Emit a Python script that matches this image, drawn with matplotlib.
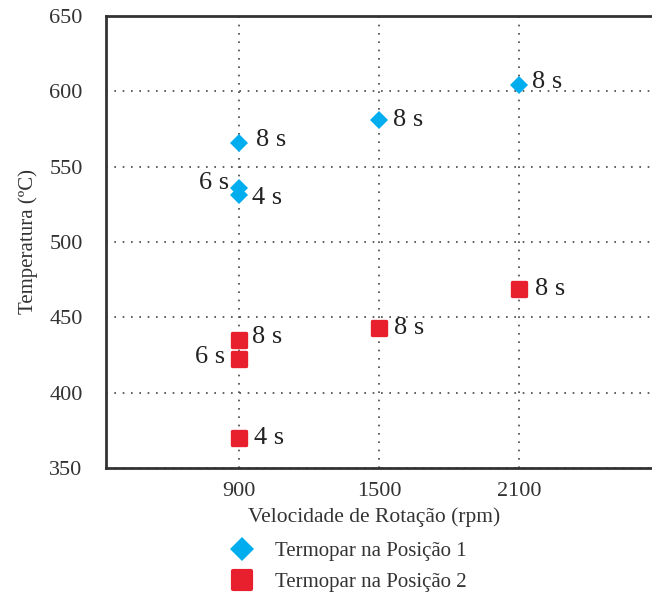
import matplotlib
matplotlib.use("Agg")
import matplotlib.pyplot as plt
from matplotlib.lines import Line2D
from matplotlib.markers import MarkerStyle

plt.rcParams['font.family'] = ['Liberation Serif', 'DejaVu Serif']

# ---------------- data ----------------
rpm_pos1 = [900, 900, 900, 1500, 2100]
temp_pos1 = [566, 536, 531, 581, 604]
time_pos1 = ['8 s', '6 s', '4 s', '8 s', '8 s']

rpm_pos2 = [900, 900, 900, 1500, 2100]
temp_pos2 = [435, 422, 370, 443, 469]
time_pos2 = ['8 s', '6 s', '4 s', '8 s', '8 s']

x_ticks = [900, 1500, 2100]
y_ticks = [350, 400, 450, 500, 550, 600, 650]

legend_labels = ['Termopar na Posição 1', 'Termopar na Posição 2']

# label placement (pixel offsets from the marker)
off_pos1 = [(17, 3), (-10, 5), (13, -3), (14, 0), (13, 3)]
off_pos2 = [(13, 3), (-14, 2), (15, 0), (15, 0), (16, 0)]

blue = '#00AEEF'
red = '#E8202E'
txt = '#333333'

rsquare = MarkerStyle('s', joinstyle='round')

fig = plt.figure(figsize=(6.52, 5.96), dpi=100)
ax = fig.add_axes([0.163, 0.215, 0.84, 0.758])

ax.plot(rpm_pos1, temp_pos1, 'D', color=blue, ms=8.8, mew=0, zorder=3)
ax.plot(rpm_pos2, temp_pos2, marker=rsquare, ls='none', color=red, ms=10,
        mew=2.4, mec=red, zorder=3)

for x, y, t, (dx, dy) in zip(rpm_pos1, temp_pos1, time_pos1, off_pos1):
    ax.annotate(t, (x, y), xytext=(dx, dy), textcoords='offset pixels',
                ha='left' if dx > 0 else 'right', va='center',
                fontsize=19, color='#222222')
for x, y, t, (dx, dy) in zip(rpm_pos2, temp_pos2, time_pos2, off_pos2):
    ax.annotate(t, (x, y), xytext=(dx, dy), textcoords='offset pixels',
                ha='left' if dx > 0 else 'right', va='center',
                fontsize=19, color='#222222')

ax.set_xlim(330, 2680)
ax.set_ylim(350, 650)
ax.set_xticks(x_ticks)
ax.set_yticks(y_ticks)
ax.tick_params(length=0, labelsize=16, colors=txt)
ax.tick_params(axis='y', pad=17)
ax.tick_params(axis='x', pad=10)
ax.grid(True, linestyle=(0, (1, 4)), color='#444444', linewidth=1.2)

for side in ['left', 'top', 'bottom']:
    ax.spines[side].set_linewidth(2)
    ax.spines[side].set_color('#333333')
ax.spines['right'].set_visible(False)

ax.set_xlabel('Velocidade de Rotação (rpm)', fontsize=15.5, color=txt,
              labelpad=5)
ax.xaxis.label.set_x(0.489)
ax.set_ylabel('Temperatura (ºC)', fontsize=15, color=txt, labelpad=8)

handles = [Line2D([], [], marker='D', color=blue, ls='none', ms=12, mew=0),
           Line2D([], [], marker=rsquare, color=red, ls='none', ms=13.5,
                  mew=3, mec=red)]
fig.legend(handles, legend_labels, loc='upper left',
           bbox_to_anchor=(0.327, 0.105), frameon=False, fontsize=15,
           labelspacing=0.55, handletextpad=0.55, borderaxespad=0,
           labelcolor=txt)

fig.savefig('out.png', dpi=100)
